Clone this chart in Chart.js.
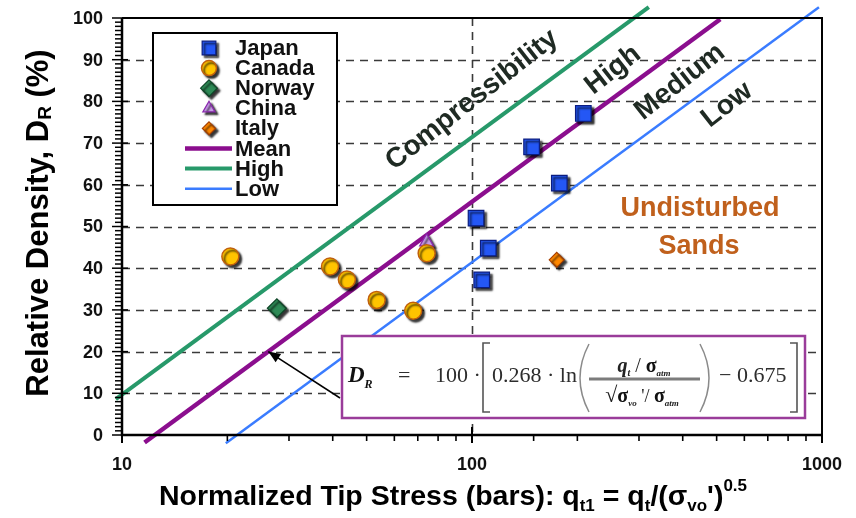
<!DOCTYPE html>
<html>
<head>
<meta charset="utf-8">
<script src="https://cdn.jsdelivr.net/npm/chart.js@4.4.1/dist/chart.umd.min.js"></script>
<style>
  html, body { margin: 0; padding: 0; background: #ffffff; }
  #wrap { width: 856px; height: 518px; }
</style>
</head>
<body>
<div id="wrap"><canvas id="c" width="856" height="518"></canvas></div>
<script>
const SANS = '"Liberation Sans", Arial, Helvetica, sans-serif';
const SERIF = '"Liberation Serif", "Times New Roman", serif';

// Field sites: normalized tip stress q_t1 (bars) and relative density D_R (%)
const japanQ   = [102.7, 111.3, 106.6, 148, 177.6, 208];
const japanDR  = [52, 44.8, 37.2, 69.1, 60.4, 77.1];
const canadaQ  = [20.4, 39.3, 43.9, 53.4, 67.9, 74.2];
const canadaDR = [42.8, 40.4, 37.3, 32.4, 29.8, 43.6];
const norwayQ  = [27.7];
const norwayDR = [30.4];
const chinaQ   = [74.2];
const chinaDR  = [46.3];
const italyQ   = [174.6];
const italyDR  = [42];

// Trend lines D_R = 100·(A·ln q_t1 − B); A and the mean B are the printed equation
const lnSlope    = 0.268;
const meanOffset = 0.675;
const highOffset = 0.52;
const lowOffset  = 0.82;
// q_t1 span over which each trend line is drawn
const meanRange = [11.6, 512];
const highRange = [9.6, 320];
const lowRange  = [19.8, 980];

// Axis labels
const xTickLabels = [10, 100, 1000];
const yTickLabels = [0, 10, 20, 30, 40, 50, 60, 70, 80, 90, 100];

const pts = (qs, ds) => qs.map((q, i) => ({ x: q, y: ds[i] }));
const trend = (range, offset) => range.map(q => ({ x: q, y: 100 * (lnSlope * Math.log(q) - offset) }));

const markerBase = { showLine: false, order: 0, marker: true };
const lineBase = { showLine: true, pointRadius: 0, pointHoverRadius: 0, clip: false, order: 2, tension: 0, borderCapStyle: 'butt' };

const datasets = [
  Object.assign({ label: 'Japan', data: pts(japanQ, japanDR), pointStyle: 'rect', pointRadius: 11,
    backgroundColor: '#2457f5', borderColor: '#0b1d80', borderWidth: 1.2 }, markerBase),
  Object.assign({ label: 'Canada', data: pts(canadaQ, canadaDR), pointStyle: 'circle', pointRadius: 8.5,
    backgroundColor: '#ffc400', borderColor: '#c0600c', borderWidth: 1.5 }, markerBase),
  Object.assign({ label: 'Norway', data: pts(norwayQ, norwayDR), pointStyle: 'rectRot', pointRadius: 9.5,
    backgroundColor: '#2e8a56', borderColor: '#0e4527', borderWidth: 1.2 }, markerBase),
  Object.assign({ label: 'China', data: pts(chinaQ, chinaDR), pointStyle: 'triangle', pointRadius: 8,
    backgroundColor: '#c89ce8', borderColor: '#8a2bad', borderWidth: 1.3 }, markerBase),
  Object.assign({ label: 'Italy', data: pts(italyQ, italyDR), pointStyle: 'rectRot', pointRadius: 7.5,
    backgroundColor: '#ff8800', borderColor: '#a43f00', borderWidth: 1.2 }, markerBase),
  Object.assign({ label: 'Mean', data: trend(meanRange, meanOffset), borderColor: '#8b0e8e', borderWidth: 4.5 }, lineBase),
  Object.assign({ label: 'High', data: trend(highRange, highOffset), borderColor: '#27996a', borderWidth: 4 }, lineBase),
  Object.assign({ label: 'Low', data: trend(lowRange, lowOffset), borderColor: '#3a7cff', borderWidth: 2.5 }, lineBase)
];

function setShadow(ctx) {
  ctx.shadowColor = 'rgba(0,0,0,0.8)';
  ctx.shadowOffsetX = 2.5;
  ctx.shadowOffsetY = 2.5;
  ctx.shadowBlur = 2;
}

// Draw a run of text pieces (with sub/superscripts) on one baseline
function rich(ctx, parts, x, y, align) {
  let total = 0;
  const widths = parts.map(p => {
    ctx.font = p.font;
    const w = ctx.measureText(p.t).width;
    total += w;
    return w;
  });
  let cx = align === 'center' ? x - total / 2 : x;
  ctx.textAlign = 'left';
  ctx.textBaseline = 'alphabetic';
  parts.forEach((p, i) => {
    ctx.font = p.font;
    ctx.fillStyle = p.color || ctx.fillStyle;
    ctx.fillText(p.t, cx, y + (p.dy || 0));
    cx += widths[i];
  });
  return cx;
}

const gridPlugin = {
  id: 'gridAndFrame',
  beforeDatasetsDraw(chart) {
    const { ctx, chartArea: a, scales: { x, y } } = chart;
    ctx.save();
    ctx.strokeStyle = '#3a3a3a';
    ctx.lineWidth = 1.6;
    ctx.setLineDash([8, 6]);
    yTickLabels.forEach(v => {
      if (v === 0 || v === 100) return;
      const py = Math.round(y.getPixelForValue(v)) + 0.5;
      ctx.beginPath(); ctx.moveTo(a.left, py); ctx.lineTo(a.right, py); ctx.stroke();
    });
    const px = Math.round(x.getPixelForValue(100)) + 0.5;
    ctx.beginPath(); ctx.moveTo(px, a.top); ctx.lineTo(px, a.bottom); ctx.stroke();
    ctx.restore();
  },
  beforeDatasetDraw(chart, args) {
    if (chart.data.datasets[args.index].marker) {
      chart.ctx.save();
      setShadow(chart.ctx);
    }
  },
  afterDatasetDraw(chart, args) {
    if (chart.data.datasets[args.index].marker) chart.ctx.restore();
  },
  afterDatasetsDraw(chart) {
    const { ctx, chartArea: a, scales: { x, y } } = chart;
    ctx.save();
    ctx.strokeStyle = '#000';
    // frame
    ctx.lineWidth = 2;
    ctx.beginPath();
    ctx.moveTo(a.left, a.top); ctx.lineTo(a.right, a.top); ctx.lineTo(a.right, a.bottom);
    ctx.stroke();
    ctx.lineWidth = 2.5;
    ctx.beginPath();
    ctx.moveTo(a.left, a.top); ctx.lineTo(a.left, a.bottom); ctx.lineTo(a.right, a.bottom);
    ctx.stroke();
    // y ticks: minor each unit, major each ten
    ctx.lineWidth = 1.5;
    for (let v = 0; v <= 100; v++) {
      const py = y.getPixelForValue(v);
      ctx.beginPath();
      if (v % 10 === 0) { ctx.moveTo(a.left - 10, py); ctx.lineTo(a.left + 6, py); }
      else { ctx.moveTo(a.left - 7, py); ctx.lineTo(a.left, py); }
      ctx.stroke();
    }
    // x ticks from the log scale's own tick list
    x.ticks.forEach(t => {
      const px = x.getPixelForValue(t.value);
      const major = xTickLabels.some(m => Math.abs(m - t.value) < 1e-6);
      ctx.lineWidth = major ? 2 : 1.6;
      ctx.beginPath();
      if (major) { ctx.moveTo(px, a.bottom - 8); ctx.lineTo(px, a.bottom + 8); }
      else { ctx.moveTo(px, a.bottom); ctx.lineTo(px, a.bottom + 6); }
      ctx.stroke();
    });
    // tick labels
    ctx.fillStyle = '#111';
    ctx.font = 'bold 18px ' + SANS;
    ctx.textBaseline = 'middle';
    ctx.textAlign = 'right';
    yTickLabels.forEach(v => ctx.fillText(String(v), a.left - 19, y.getPixelForValue(v) + 1));
    ctx.textAlign = 'center';
    xTickLabels.forEach(v => ctx.fillText(String(v), x.getPixelForValue(v), a.bottom + 30));
    ctx.restore();

    drawLegend(chart);
    drawLabels(chart);
    drawEquation(chart);
    drawTitles(chart);
  }
};

function drawLegend(chart) {
  const ctx = chart.ctx;
  const bx = 153, by = 33, bw = 184, bh = 172;
  ctx.save();
  ctx.fillStyle = '#fff';
  ctx.fillRect(bx, by, bw, bh);
  ctx.strokeStyle = '#000';
  ctx.lineWidth = 2;
  ctx.strokeRect(bx, by, bw, bh);
  const rowY = by + 15, step = 20.1;
  chart.data.datasets.forEach((ds, i) => {
    const cy = rowY + i * step;
    if (ds.marker) {
      ctx.save();
      setShadow(ctx);
      ctx.fillStyle = ds.backgroundColor;
      ctx.strokeStyle = ds.borderColor;
      ctx.lineWidth = ds.borderWidth;
      Chart.helpers.drawPoint(ctx, {
        pointStyle: ds.pointStyle, rotation: 0,
        radius: ds.pointRadius * 0.88, borderWidth: ds.borderWidth
      }, 209, cy);
      ctx.restore();
    } else {
      ctx.strokeStyle = ds.borderColor;
      ctx.lineWidth = ds.borderWidth;
      ctx.beginPath(); ctx.moveTo(185, cy); ctx.lineTo(232, cy); ctx.stroke();
    }
    ctx.fillStyle = '#111';
    ctx.font = 'bold 22px ' + SANS;
    ctx.textAlign = 'left';
    ctx.textBaseline = 'middle';
    ctx.fillText(ds.label, 235, cy + 1);
  });
  ctx.restore();
}

function drawLabels(chart) {
  const ctx = chart.ctx;
  ctx.save();
  const ang = -38 * Math.PI / 180;
  const rot = [
    ['Compressibility', 472, 100],
    ['High', 613, 70],
    ['Medium', 680, 82],
    ['Low', 727, 105]
  ];
  ctx.font = 'bold 28px ' + SANS;
  ctx.textAlign = 'center';
  ctx.textBaseline = 'middle';
  rot.forEach(([s, cx, cy]) => {
    ctx.save();
    ctx.translate(cx, cy);
    ctx.rotate(ang);
    ctx.fillStyle = '#1f2a23';
    ctx.fillText(s, 0, 0);
    ctx.restore();
  });
  ctx.fillStyle = '#c0601c';
  ctx.font = 'bold 27px ' + SANS;
  ctx.fillText('Undisturbed', 700, 209);
  ctx.fillText('Sands', 699, 247);
  ctx.restore();
}

function drawEquation(chart) {
  const ctx = chart.ctx;
  const { scales: { x, y } } = chart;
  const x0 = 342, y0 = 336, w = 463, h = 82;
  ctx.save();
  // arrow from the box to the mean line at D_R = 20 %
  const tipDR = 20;
  const tipQ = Math.exp((tipDR / 100 + meanOffset) / lnSlope);
  const tx = x.getPixelForValue(tipQ), ty = y.getPixelForValue(tipDR);
  const sx = x0 - 2, sy = y0 + 62;
  ctx.strokeStyle = '#000';
  ctx.fillStyle = '#000';
  ctx.lineWidth = 1.5;
  ctx.beginPath(); ctx.moveTo(sx, sy); ctx.lineTo(tx, ty); ctx.stroke();
  const th = Math.atan2(ty - sy, tx - sx);
  ctx.beginPath();
  ctx.moveTo(tx, ty);
  ctx.lineTo(tx - 12 * Math.cos(th) + 5 * Math.sin(th), ty - 12 * Math.sin(th) - 5 * Math.cos(th));
  ctx.lineTo(tx - 12 * Math.cos(th) - 5 * Math.sin(th), ty - 12 * Math.sin(th) + 5 * Math.cos(th));
  ctx.closePath(); ctx.fill();

  // box
  ctx.fillStyle = '#fff';
  ctx.fillRect(x0, y0, w, h);
  ctx.strokeStyle = '#9a3c9a';
  ctx.lineWidth = 2.5;
  ctx.strokeRect(x0, y0, w, h);

  const col = '#2d2d2d';
  const base = y0 + 46;
  ctx.fillStyle = col;
  rich(ctx, [
    { t: 'D', font: 'italic bold 23px ' + SERIF, color: '#111' },
    { t: 'R', font: 'italic bold 12px ' + SERIF, dy: 6, color: '#111' }
  ], x0 + 6, base, 'left');
  rich(ctx, [{ t: '=', font: '22px ' + SERIF, color: col }], x0 + 56, base, 'left');
  rich(ctx, [{ t: '100 ·', font: '22px ' + SERIF, color: col }], x0 + 93, base, 'left');
  rich(ctx, [{ t: '0.268 · ln', font: '22px ' + SERIF, color: col }], x0 + 150, base, 'left');
  rich(ctx, [{ t: '− 0.675', font: '22px ' + SERIF, color: col }], x0 + 377, base, 'left');

  // brackets and parentheses
  ctx.strokeStyle = '#555';
  ctx.lineWidth = 1.6;
  ctx.beginPath();
  ctx.moveTo(x0 + 148, y0 + 7); ctx.lineTo(x0 + 141, y0 + 7); ctx.lineTo(x0 + 141, y0 + 76); ctx.lineTo(x0 + 148, y0 + 76);
  ctx.moveTo(x0 + 448, y0 + 7); ctx.lineTo(x0 + 455, y0 + 7); ctx.lineTo(x0 + 455, y0 + 76); ctx.lineTo(x0 + 448, y0 + 76);
  ctx.stroke();
  ctx.strokeStyle = '#8a8a8a';
  ctx.lineWidth = 1.5;
  ctx.beginPath();
  ctx.moveTo(x0 + 247, y0 + 8); ctx.quadraticCurveTo(x0 + 229, y0 + 42, x0 + 247, y0 + 76);
  ctx.moveTo(x0 + 358, y0 + 8); ctx.quadraticCurveTo(x0 + 376, y0 + 42, x0 + 358, y0 + 76);
  ctx.stroke();

  // fraction
  ctx.strokeStyle = '#7c7c7c';
  ctx.lineWidth = 3;
  ctx.beginPath(); ctx.moveTo(x0 + 247, y0 + 43); ctx.lineTo(x0 + 358, y0 + 43); ctx.stroke();
  rich(ctx, [
    { t: 'q', font: 'italic bold 20px ' + SERIF, color: '#222' },
    { t: 't', font: 'italic bold 10px ' + SERIF, dy: 4, color: '#222' },
    { t: ' / ', font: '20px ' + SERIF, color: '#222' },
    { t: 'σ', font: 'bold 20px ' + SERIF, color: '#111' },
    { t: 'atm', font: 'italic bold 9px ' + SERIF, dy: 4, color: '#222' }
  ], x0 + 302, y0 + 36, 'center');
  rich(ctx, [
    { t: '√', font: '22px ' + SERIF, color: '#222' },
    { t: 'σ', font: 'bold 20px ' + SERIF, color: '#111' },
    { t: 'vo', font: 'italic bold 9px ' + SERIF, dy: 4, color: '#222' },
    { t: " '/ ", font: '18px ' + SERIF, color: '#222' },
    { t: 'σ', font: 'bold 20px ' + SERIF, color: '#111' },
    { t: 'atm', font: 'italic bold 9px ' + SERIF, dy: 4, color: '#222' }
  ], x0 + 300, y0 + 66, 'center');
  ctx.restore();
}

function drawTitles(chart) {
  const ctx = chart.ctx;
  ctx.save();
  ctx.fillStyle = '#000';
  rich(ctx, [
    { t: 'Normalized Tip Stress (bars): q', font: 'bold 28.5px ' + SANS, color: '#000' },
    { t: 't1', font: 'bold 17px ' + SANS, dy: 6 },
    { t: ' = q', font: 'bold 28.5px ' + SANS },
    { t: 't', font: 'bold 17px ' + SANS, dy: 6 },
    { t: '/(σ', font: 'bold 28.5px ' + SANS },
    { t: 'vo', font: 'bold 17px ' + SANS, dy: 6 },
    { t: "')", font: 'bold 28.5px ' + SANS },
    { t: '0.5', font: 'bold 17px ' + SANS, dy: -14 }
  ], 453, 505, 'center');
  ctx.translate(48, 223);
  ctx.rotate(-Math.PI / 2);
  rich(ctx, [
    { t: 'Relative Density, D', font: 'bold 31px ' + SANS, color: '#000' },
    { t: 'R', font: 'bold 19px ' + SANS, dy: 3 },
    { t: ' (%)', font: 'bold 31px ' + SANS }
  ], 0, 0, 'center');
  ctx.restore();
}

new Chart(document.getElementById('c'), {
  type: 'scatter',
  data: { datasets },
  options: {
    responsive: false,
    animation: false,
    events: [],
    layout: { padding: { top: 18, right: 34, left: 0, bottom: 0 } },
    plugins: { legend: { display: false }, tooltip: { enabled: false } },
    scales: {
      x: {
        type: 'logarithmic', min: 10, max: 1000,
        afterFit(s) { s.height = 83; },
        grid: { display: false, drawTicks: false },
        border: { display: false },
        ticks: { display: false, autoSkip: false }
      },
      y: {
        min: 0, max: 100,
        afterFit(s) { s.width = 122; },
        grid: { display: false, drawTicks: false },
        border: { display: false },
        ticks: { display: false, stepSize: 10 }
      }
    }
  },
  plugins: [gridPlugin]
});
</script>
</body>
</html>
